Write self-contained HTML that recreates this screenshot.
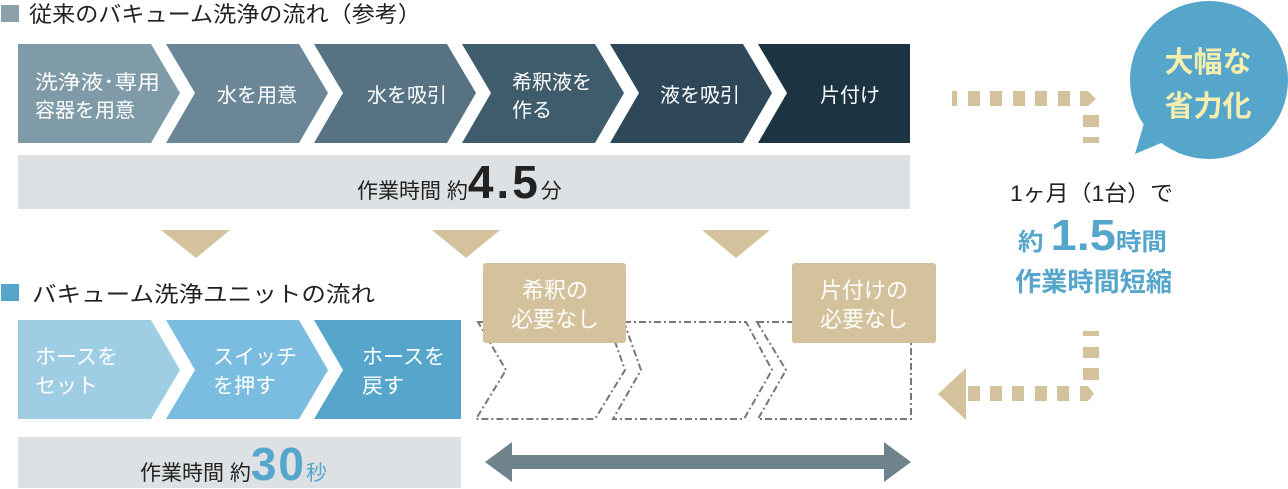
<!DOCTYPE html>
<html><head><meta charset="utf-8"><style>
html,body{margin:0;padding:0;background:#fff;width:1288px;height:489px;overflow:hidden}
svg{display:block}
text{font-family:"Liberation Sans","Noto Sans CJK JP",sans-serif}
</style></head><body>
<svg width="1288" height="489" viewBox="0 0 1288 489" xmlns="http://www.w3.org/2000/svg">
<rect x="1" y="5" width="18" height="17" fill="#8aa0ab"/>
<text x="29" y="22" font-size="22" fill="#222" textLength="392" lengthAdjust="spacingAndGlyphs">従来のバキューム洗浄の流れ（参考）</text>
<path d="M18,44 H151 L180,93 L151,143 H18 Z" fill="#7f9ba7"/>
<path d="M166,44 H299 L328,93 L299,143 H166 L195,93 Z" fill="#6b8797"/>
<path d="M314,44 H447 L476,93 L447,143 H314 L343,93 Z" fill="#567283"/>
<path d="M462,44 H595 L624,93 L595,143 H462 L491,93 Z" fill="#3f5c6c"/>
<path d="M610,44 H743 L772,93 L743,143 H610 L639,93 Z" fill="#2e4859"/>
<path d="M758,44 H910 V143 H758 L787,93 Z" fill="#1c3441"/>
<g fill="#fff" font-size="20">
<text x="35" y="89" textLength="125" lengthAdjust="spacingAndGlyphs">洗浄液･専用</text>
<text x="35" y="117">容器を用意</text>
<text x="257" y="102" text-anchor="middle">水を用意</text>
<text x="407" y="102" text-anchor="middle">水を吸引</text>
<text x="512" y="89">希釈液を</text>
<text x="512" y="117">作る</text>
<text x="700" y="102" text-anchor="middle">液を吸引</text>
<text x="850" y="102" text-anchor="middle">片付け</text>
</g>
<rect x="18" y="155" width="892" height="54" fill="#dde1e4"/>
<text x="357" y="198" font-size="21" fill="#222">作業時間 約<tspan font-size="46" font-weight="bold" letter-spacing="3">4.5</tspan>分</text>
<g fill="#d3c29c">
<path d="M161,230 H230 L196,258 Z"/>
<path d="M432,230 H500 L466,258 Z"/>
<path d="M702,230 H770 L736,258 Z"/>
</g>
<rect x="1" y="284" width="18" height="17" fill="#56a5cb"/>
<text x="32" y="302" font-size="22" fill="#222" textLength="343" lengthAdjust="spacingAndGlyphs">バキューム洗浄ユニットの流れ</text>
<path d="M18,320 H151 L180,370 L151,419 H18 Z" fill="#9ecde4"/>
<path d="M166,320 H299 L328,370 L299,419 H166 L195,370 Z" fill="#7bbde0"/>
<path d="M314,320 H461 V419 H314 L343,370 Z" fill="#56a5cb"/>
<g fill="#fff" font-size="21">
<text x="35" y="364">ホースを</text>
<text x="35" y="393">セット</text>
<text x="213" y="364">スイッチ</text>
<text x="213" y="393">を押す</text>
<text x="362" y="364">ホースを</text>
<text x="362" y="393">戻す</text>
</g>
<rect x="18" y="437" width="443" height="51" fill="#dde1e4"/>
<text x="140" y="480" font-size="21" fill="#222">作業時間 約<tspan font-size="46" font-weight="bold" fill="#56a5cb" letter-spacing="2">30</tspan><tspan fill="#56a5cb">秒</tspan></text>
<g fill="none" stroke="#777" stroke-width="2" stroke-dasharray="7,3,2,3">
<path d="M478,322 H608 L625,370 L595,419 H476 L506,370 Z"/>
<path d="M624,322 H746 L772,370 L744,419 H613 L641,370 Z"/>
<path d="M757,322 H911 V419 H758 L786,370 Z"/>
</g>
<rect x="483" y="263" width="143" height="80" rx="3" fill="#d3c29c"/>
<rect x="792" y="263" width="144" height="80" rx="3" fill="#d3c29c"/>
<g fill="#fff" font-size="22" text-anchor="middle">
<text x="555" y="298">希釈の</text>
<text x="555" y="327">必要なし</text>
<text x="864" y="298">片付けの</text>
<text x="864" y="327">必要なし</text>
</g>
<path d="M485,462 L512,442 V455 H884 V442 L911,462 L884,482 V469 H512 V482 Z" fill="#6f838d"/>
<g fill="#d3c29c">
<rect x="952" y="91" width="5" height="15"/>
<rect x="968" y="91" width="12" height="15"/>
<rect x="990" y="91" width="12" height="15"/>
<rect x="1013" y="91" width="12" height="15"/>
<rect x="1035" y="91" width="12" height="15"/>
<rect x="1058" y="91" width="12" height="15"/>
<path d="M1080,91 L1088,91 L1096,99 L1088,106 L1080,106 Z"/>
<rect x="1083" y="115" width="16" height="12"/>
<rect x="1083" y="137" width="16" height="6"/>
<rect x="1083" y="331" width="16" height="5"/>
<rect x="1083" y="347" width="16" height="11"/>
<rect x="1083" y="368" width="16" height="12"/>
<path d="M1080,386 L1088,386 L1094,394 L1088,401 L1080,401 Z"/>
<rect x="1057" y="386" width="12" height="15"/>
<rect x="1035" y="386" width="12" height="15"/>
<rect x="1012" y="386" width="12" height="15"/>
<rect x="990" y="386" width="12" height="15"/>
<rect x="968" y="386" width="12" height="15"/>
<path d="M938,394 L966,368 V420 Z"/>
</g>
<circle cx="1209" cy="80" r="79" fill="#56a5cb"/>
<path d="M1145,120 L1135,154 L1180,135 Z" fill="#56a5cb"/>
<g fill="#f6eeae" font-size="29" font-weight="bold" text-anchor="middle">
<text x="1208" y="72">大幅な</text>
<text x="1208" y="116">省力化</text>
</g>
<text x="1010" y="201" font-size="22" fill="#222" textLength="163" lengthAdjust="spacingAndGlyphs">1ヶ月（1台）で</text>
<text x="1018" y="250" font-size="24" fill="#56a5cb" font-weight="bold" textLength="149" lengthAdjust="spacingAndGlyphs">約 <tspan font-size="44">1.5</tspan>時間</text>
<text x="1015" y="291" font-size="26" fill="#56a5cb" font-weight="bold" textLength="157" lengthAdjust="spacingAndGlyphs">作業時間短縮</text>
</svg>
</body></html>
